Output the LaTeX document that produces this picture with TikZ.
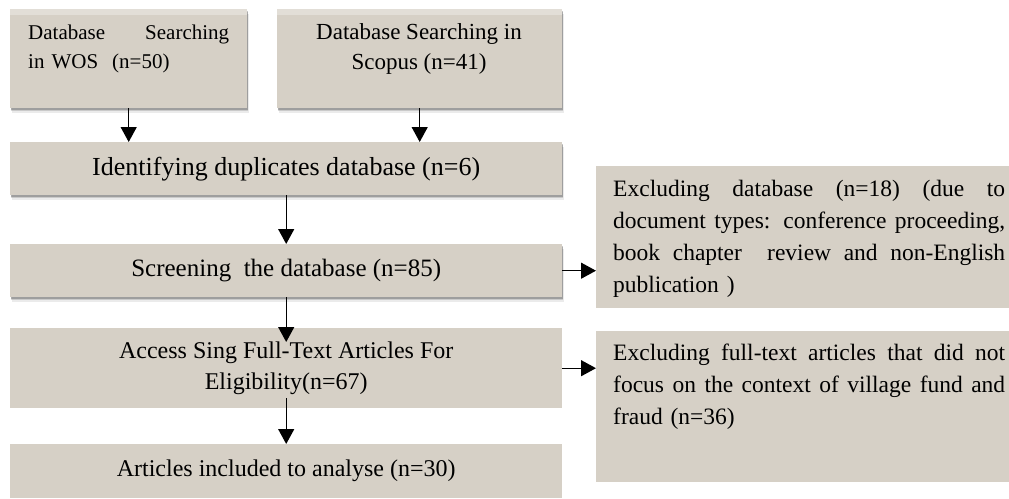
\documentclass[tikz,border=0pt]{standalone}
\usepackage{fontspec}
\setmainfont{Liberation Serif}
\usetikzlibrary{arrows.meta,shadows}
\definecolor{boxfill}{RGB}{214,208,198}
\definecolor{stripfill}{RGB}{226,222,215}
\newcommand\jline[2]{\makebox[#1][s]{\spaceskip=0pt\xspaceskip=0pt\relax #2}}
\tikzset{
  flowbox/.style={fill=boxfill, draw=none, inner sep=0pt, anchor=north west},
  softshadow/.style={
    drop shadow={shadow xshift=0.5pt, shadow yshift=-1.5pt, opacity=0.22, fill=black},
    drop shadow={shadow xshift=1pt, shadow yshift=-3pt, opacity=0.14, fill=black},
    drop shadow={shadow xshift=1.5pt, shadow yshift=-5pt, opacity=0.08, fill=black}},
  maintext/.style={font=\fontsize{24}{31}\selectfont, align=center},
  sidetext/.style={font=\fontsize{23.5}{32}\selectfont, inner sep=0pt, anchor=north west, align=left},
  flowarrow/.style={-{Triangle[length=15pt,width=16pt]}, line width=1.3pt},
}
\begin{document}
\begin{tikzpicture}[x=1pt,y=-1pt]
\useasboundingbox (0,0) rectangle (1009,498);
% top boxes
\node[flowbox, softshadow, minimum width=237pt, minimum height=99pt] (wos) at (10,9) {};
\fill[stripfill] (wos.north west) rectangle ([yshift=-6pt]wos.north east);
\node[sidetext, font=\fontsize{21}{29}\selectfont, text width=201pt] (wostext) at (28,25)
  {\jline{201pt}{Database Searching}\\in WOS\ \ (n=50)};
\node[flowbox, softshadow, minimum width=285pt, minimum height=99pt] (scopus) at (277,9) {};
\fill[stripfill] (scopus.north west) rectangle ([yshift=-6pt]scopus.north east);
\node[font=\fontsize{23}{30}\selectfont, align=center, inner sep=0pt, anchor=north] (scopustext) at (419,23)
  {Database Searching in\\Scopus (n=41)};
% main column
\node[flowbox, softshadow, maintext, font=\fontsize{26}{31}\selectfont, minimum width=552pt, minimum height=53pt] (ident) at (10,142)
  {Identifying duplicates database (n=6)};
\node[flowbox, softshadow, maintext, font=\fontsize{25}{31}\selectfont, minimum width=552pt, minimum height=53pt] (screen) at (10,244)
  {Screening\ \ the database (n=85)};
\node[flowbox, maintext, minimum width=552pt, minimum height=80pt] (access) at (10,328)
  {Access Sing Full-Text Articles For\\Eligibility(n=67)};
\node[flowbox, maintext, minimum width=552pt, minimum height=54pt] (articles) at (10,444)
  {Articles included to analyse (n=30)};
% side boxes
\node[flowbox, minimum width=413pt, minimum height=142pt] (excl1) at (596,166) {};
\node[sidetext, text width=392pt] (excl1text) at (613,180)
  {\jline{392pt}{Excluding database (n=18) (due to}\\
   \jline{392pt}{document types: conference proceeding,}\\
   \jline{392pt}{book chapter\ \ review and non-English}\\
   publication )};
\node[flowbox, minimum width=413pt, minimum height=151pt] (excl2) at (596,331) {};
\node[sidetext, text width=392pt] (excl2text) at (613,344)
  {\jline{392pt}{Excluding full-text articles that did not}\\
   \jline{392pt}{focus on the context of village fund and}\\
   fraud (n=36)};
% arrows
\draw[flowarrow] (wos.south) -- (wos.south |- ident.north);
\draw[flowarrow] (scopus.south) -- (scopus.south |- ident.north);
\draw[flowarrow] (ident.south) -- (screen.north);
\draw[flowarrow] (screen.south) -- ([yshift=-14pt]access.north);
\draw[flowarrow] ([yshift=10pt]access.south) -- (articles.north);
\draw[flowarrow] (screen.east) -- (screen.east -| excl1.west);
\draw[flowarrow] (access.east) -- (access.east -| excl2.west);
\end{tikzpicture}
\end{document}
